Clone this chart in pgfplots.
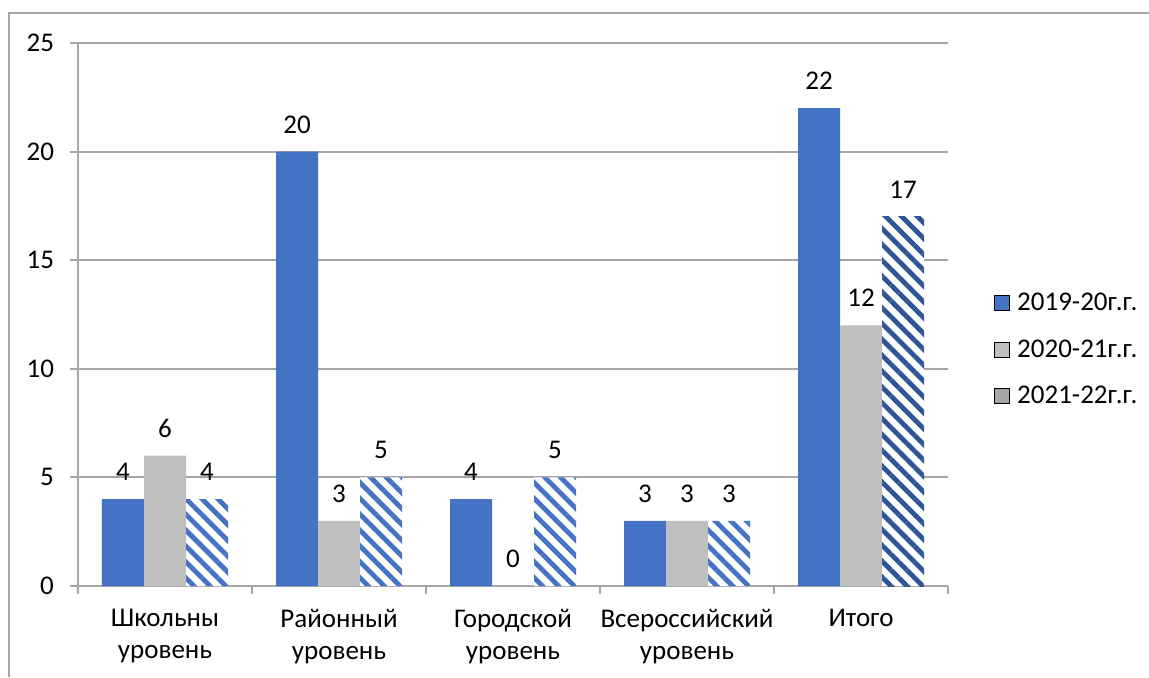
\documentclass[border=0pt]{standalone}
\usepackage{fontspec}
\setmainfont{Carlito}
\usepackage{pgfplots}
\pgfplotsset{compat=1.18}
\usetikzlibrary{patterns.meta}

\definecolor{barblue}{HTML}{4472C4}
\definecolor{bargrey}{HTML}{BFBFBF}
\definecolor{leggrey}{HTML}{A5A5A5}
\definecolor{darkhatch}{HTML}{2F5597}
\definecolor{gridgrey}{HTML}{A6A6A6}

\tikzset{
  hatch/.style={fill=white, postaction={pattern={Lines[angle=-45,distance=5.6pt,line width=2.4pt]}, pattern color=#1}}
}

\begin{document}
\begin{tikzpicture}[font=\fontsize{13.5}{16}\selectfont]
\useasboundingbox (0,0) rectangle (574.5pt,338.5pt);
\draw[gridgrey, line width=0.6pt] (4.5pt,0) -- (4.5pt,332pt) -- (574.5pt,332pt);
\begin{axis}[
    at={(39pt,45.5pt)}, anchor=south west,
    scale only axis,
    width=435pt, height=271.5pt,
    xmin=-0.5, xmax=4.5,
    ymin=0, ymax=25,
    ytick={0,5,...,25},
    xtick={0,1,2,3,4},
    xticklabels={{Школьны\\уровень},{Районный\\уровень},{Городской\\уровень},{Всероссийский\\уровень},{Итого}},
    minor xtick={-0.5,0.5,1.5,2.5,3.5,4.5},
    xticklabel style={align=center, yshift=-4pt},
    yticklabel style={xshift=-4.5pt},
    axis x line*=bottom, axis y line*=left,
    axis line style={draw=gridgrey, line width=0.8pt, -},
    ymajorgrids,
    major grid style={draw=gridgrey, line width=1pt},
    tick align=outside,
    major tick length=4pt, minor tick length=4pt,
    major x tick style={draw=none},
    minor x tick style={draw=gridgrey, line width=0.8pt},
    ytick style={draw=gridgrey, line width=1pt},
    /pgf/number format/assume math mode=true,
    tick label style={font=\fontsize{13.5}{16}\selectfont},
    nodes near coords,
    every node near coord/.append style={anchor=south, inner sep=0pt, yshift=9pt, font=\fontsize{13.5}{16}\selectfont},
    legend style={at={(1.046,0.435)}, anchor=west, draw=none, fill=none,
      row sep=9pt, font=\fontsize{13.5}{16}\selectfont,
      nodes={inner xsep=3.5pt}},
    legend cell align=left,
    legend image code/.code={\fill[#1] (0pt,-3.75pt) rectangle (7.5pt,3.75pt);},
  ]
  \addplot[ybar, bar width=21pt, bar shift=-21pt, fill=barblue, draw=none, forget plot,
    every node near coord/.append style={xshift=-21pt}]
    coordinates {(0,4) (1,20) (2,4) (3,3) (4,22)};
  \addplot[ybar, bar width=21pt, bar shift=0pt, fill=bargrey, draw=none, forget plot]
    coordinates {(0,6) (1,3) (2,0) (3,3) (4,12)};
  \addplot[ybar, bar width=21pt, bar shift=21pt, draw=none, hatch=barblue, forget plot,
    every node near coord/.append style={xshift=21pt}]
    coordinates {(0,4) (1,5) (2,5) (3,3)};
  \addplot[ybar, bar width=21pt, bar shift=21pt, draw=none, hatch=darkhatch, forget plot,
    every node near coord/.append style={xshift=21pt}]
    coordinates {(4,17)};
  \addlegendimage{fill=barblue}
  \addlegendentry{2019-20г.г.}
  \addlegendimage{fill=bargrey}
  \addlegendentry{2020-21г.г.}
  \addlegendimage{fill=leggrey}
  \addlegendentry{2021-22г.г.}
\end{axis}
\end{tikzpicture}
\end{document}
